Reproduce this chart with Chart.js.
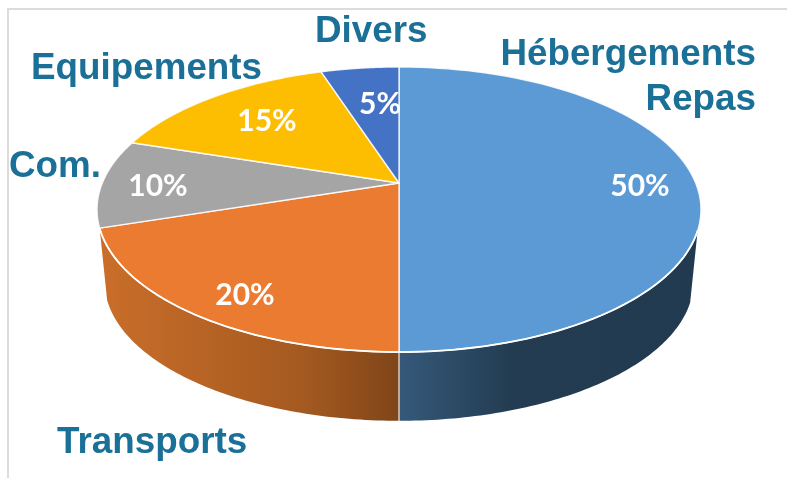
<!DOCTYPE html>
<html>
<head>
<meta charset="utf-8">
<style>
  html, body { margin: 0; background: #fff; overflow: hidden; }
  #cadre { position: absolute; left: 7px; top: 8px; width: 780px; height: 470px; border-left: 2px solid #dcdcdc; border-top: 2px solid #dcdcdc; }
  canvas { position: absolute; left: 0; top: 0; filter: blur(0.45px); }
</style>
</head>
<body>
<div id="cadre"></div>
<canvas id="camembert" width="787" height="478"></canvas>
<script src="https://cdn.jsdelivr.net/npm/chart.js@4"></script>
<script>
const categories = [['Hébergements', 'Repas'], ['Transports'], ['Com.'], ['Equipements'], ['Divers']]
const valeurs = [50, 20, 10, 15, 5]
const couleurs = ['#5b9ad5', '#ea7b30', '#a5a5a5', '#fdbd00', '#4472c4']

// placement du texte, hors des données
const posValeurs = [[640, 186], [245, 295], [158, 186], [267, 121], [380, 104]]
const posNoms = [
  { x: 756, y: [65, 110], align: 'right' },
  { x: 57, y: [453], align: 'left' },
  { x: 9, y: [177], align: 'left' },
  { x: 31, y: [79], align: 'left' },
  { x: 315, y: [42], align: 'left' }
]

// disque vu en perspective : le centre du camembert n'est pas celui de l'ellipse
const CX = 399, CY = 183, A = 296.7, B = 137.6, K = -0.186
const EPAISSEUR = 73, RETRAIT = 0.975

function projette(angle, echelle = 1, dy = 0) {
  const u = Math.cos(angle), v = Math.sin(angle)
  const d = 1 + K * v
  return [CX + echelle * A * u / d, CY + dy + echelle * B * v / d]
}

function tracerBord(ctx, debut, fin, echelle, dy) {
  const pas = 80
  for (let i = 0; i <= pas; i++) {
    const [x, y] = projette(debut + (fin - debut) * i / pas, echelle, dy)
    ctx.lineTo(x, y)
  }
}

function tracerFlanc(ctx, debut, fin, stops) {
  const x0 = stops[0][0], x1 = stops[stops.length - 1][0]
  const g = ctx.createLinearGradient(x0, 0, x1, 0)
  stops.forEach(([x, c]) => g.addColorStop((x - x0) / (x1 - x0), c))
  ctx.beginPath()
  tracerBord(ctx, debut, fin, 1, 0)
  tracerBord(ctx, fin, debut, RETRAIT, EPAISSEUR)
  ctx.closePath()
  ctx.fillStyle = g
  ctx.fill()
}

const camembert3d = {
  id: 'camembert3d',
  beforeDatasetsDraw(chart) {
    const ctx = chart.ctx
    const arcs = chart.getDatasetMeta(0).data
    const rad = d => d * Math.PI / 180
    const debutFlanc = arcs[0].startAngle + rad(109)

    ctx.save()
    // flancs : seuls Transports et Hébergements sont visibles
    tracerFlanc(ctx, debutFlanc, arcs[0].endAngle, [[400, '#35597a'], [510, '#233c51'], [700, '#223a4f']])
    tracerFlanc(ctx, arcs[1].startAngle, arcs[1].endAngle, [[100, '#ca6e2a'], [300, '#a55a20'], [400, '#7f4518']])

    arcs.forEach((arc, i) => {
      ctx.beginPath()
      ctx.moveTo(CX, CY)
      tracerBord(ctx, arc.startAngle, arc.endAngle, 1, 0)
      ctx.closePath()
      ctx.fillStyle = couleurs[i]
      ctx.fill()
      ctx.lineWidth = 1.4
      ctx.strokeStyle = 'rgba(255,255,255,0.85)'
      ctx.lineJoin = 'round'
      ctx.stroke()
    })

    // liseré blanc sur le bord avant, plus marqué
    ctx.beginPath()
    tracerBord(ctx, debutFlanc, arcs[1].endAngle, 1, 0)
    ctx.lineWidth = 1.8
    ctx.strokeStyle = '#fff'
    ctx.stroke()

    // arête verticale entre les deux flancs
    const [xa, ya] = projette(arcs[0].endAngle)
    ctx.beginPath()
    ctx.moveTo(xa, ya)
    ctx.lineTo(xa, ya + 70)
    ctx.lineWidth = 1.2
    ctx.strokeStyle = 'rgba(255,255,255,0.9)'
    ctx.stroke()

    ctx.textBaseline = 'alphabetic'
    ctx.fillStyle = '#1a7096'
    ctx.font = 'bold 36.8px "Liberation Sans"'
    categories.forEach((lignes, i) => {
      ctx.textAlign = posNoms[i].align
      lignes.forEach((txt, l) => ctx.fillText(txt, posNoms[i].x, posNoms[i].y[l]))
    })

    ctx.fillStyle = '#fff'
    ctx.font = 'bold 30px Lato'
    ctx.textAlign = 'center'
    ctx.textBaseline = 'middle'
    valeurs.forEach((v, i) => ctx.fillText(v + '%', posValeurs[i][0], posValeurs[i][1]))
    ctx.restore()
    return false
  }
}

new Chart(document.getElementById('camembert'), {
  type: 'pie',
  data: {
    labels: categories.map(c => c.join(' ')),
    datasets: [{ data: valeurs, backgroundColor: couleurs }]
  },
  options: {
    responsive: false,
    animation: false,
    plugins: { legend: { display: false }, tooltip: { enabled: false } }
  },
  plugins: [camembert3d]
})
</script>
</body>
</html>
